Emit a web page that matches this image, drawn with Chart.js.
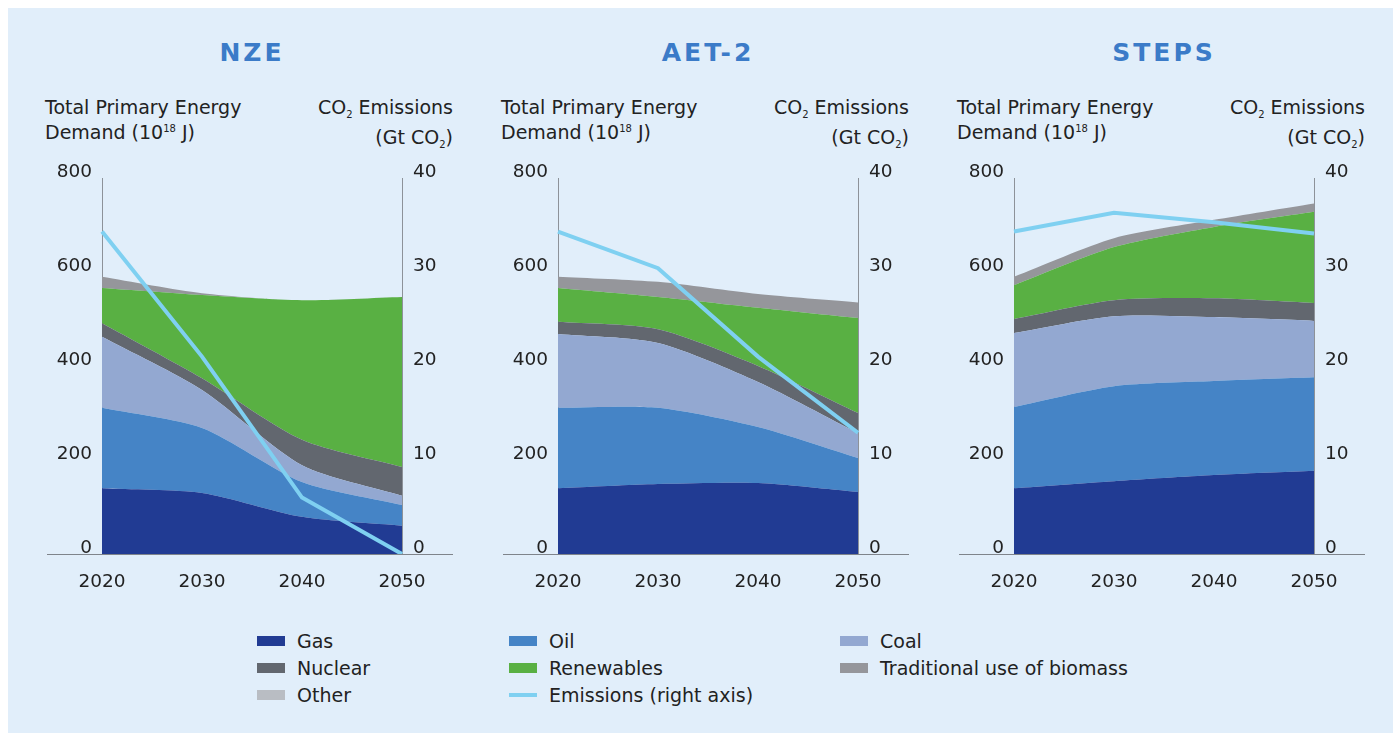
<!DOCTYPE html>
<html>
<head>
<meta charset="utf-8">
<script src="https://cdn.jsdelivr.net/npm/chart.js@4.4.1/dist/chart.umd.min.js"></script>
<style>
  html, body { margin: 0; padding: 0; background: #ffffff; }
  body { width: 1393px; height: 733px; position: relative; overflow: hidden;
         font-family: "DejaVu Sans", sans-serif; color: #222; }
  #panel { position: absolute; left: 8px; top: 8px; width: 1385px; height: 725px; background: #e1eefa; }
  .title { position: absolute; top: 38px; width: 300px; text-align: center; font-weight: bold;
           font-size: 25px; letter-spacing: 3px; color: #3b7bc8; }
  .axt { position: absolute; top: 96px; font-size: 19px; line-height: 22px; color: #222; white-space: nowrap; }
  .axt.r { text-align: right; }
  .axt sup { font-size: 10px; vertical-align: 7px; }
  .axt sub { font-size: 10px; vertical-align: -4px; }
  .cv { position: absolute; top: 160px; width: 420px; height: 440px; }
  .lg { position: absolute; font-size: 19px; line-height: 22px; white-space: nowrap; color: #222; }
  .lg i { position: absolute; left: -40px; width: 28px; }
</style>
</head>
<body>
<div id="panel"></div>
<script>
// Years on the x axis and the three scenarios
const years = ['2020', '2030', '2040', '2050'];
const scenarios = ['NZE', 'AET-2', 'STEPS'];

// Total primary energy demand by source (10^18 J)
const nzeGas       = [140, 130, 79, 60];
const nzeOil       = [171, 138, 74, 44];
const nzeCoal      = [151, 81, 36, 20];
const nzeNuclear   = [29, 25, 54, 61];
const nzeRenew     = [75, 177, 297, 362];
const nzeBiomass   = [24, 4, 0, 0];
const nzeOther     = [0, 0, 0, 0];

const aetGas       = [140, 149, 151, 132];
const aetOil       = [171, 162, 119, 72];
const aetCoal      = [157, 138, 96, 53];
const aetNuclear   = [26, 29, 34, 43];
const aetRenew     = [72, 69, 124, 202];
const aetBiomass   = [24, 32, 29, 33];
const aetOther     = [0, 0, 0, 0];

const stepsGas     = [140, 155, 168, 177];
const stepsOil     = [173, 202, 200, 199];
const stepsCoal    = [157, 149, 136, 120];
const stepsNuclear = [30, 34, 40, 38];
const stepsRenew   = [72, 113, 152, 194];
const stepsBiomass = [18, 19, 15, 18];
const stepsOther   = [0, 0, 0, 0];

// CO2 emissions (Gt CO2), right axis
const nzeEmissions   = [34.3, 21.0, 6.0, 0];
const aetEmissions   = [34.3, 30.4, 21.0, 12.9];
const stepsEmissions = [34.3, 36.3, 35.3, 34.1];

// Axis ticks
const energyTicks   = [0, 200, 400, 600, 800];
const emissionTicks = [0, 10, 20, 30, 40];

// Series names and colours (stack order, bottom first)
const sourceLabels = ['Gas', 'Oil', 'Coal', 'Nuclear', 'Renewables', 'Traditional use of biomass', 'Other'];
const sourceColors = ['#213b93', '#4584c6', '#93a8d1', '#62676f', '#59b043', '#95969b', '#b9bdc3'];
const emissionLabel = 'Emissions (right axis)';
const emissionColor = '#7fd0f1';

const energyData = [
  [nzeGas, nzeOil, nzeCoal, nzeNuclear, nzeRenew, nzeBiomass, nzeOther],
  [aetGas, aetOil, aetCoal, aetNuclear, aetRenew, aetBiomass, aetOther],
  [stepsGas, stepsOil, stepsCoal, stepsNuclear, stepsRenew, stepsBiomass, stepsOther]
];
const emissionData = [nzeEmissions, aetEmissions, stepsEmissions];

Chart.defaults.font.family = '"DejaVu Sans", sans-serif';
Chart.defaults.font.size = 18.5;
Chart.defaults.color = '#222';

// Horizontal base line running under both tick columns
const baseLine = {
  id: 'baseLine',
  afterDraw(chart) {
    const { ctx, chartArea: a, scales } = chart;
    const y = Math.round(scales.y.getPixelForValue(0)) + 0.5;
    ctx.save();
    ctx.strokeStyle = '#7f848b';
    ctx.lineWidth = 1;
    ctx.beginPath();
    ctx.moveTo(a.left - 55, y);
    ctx.lineTo(a.right + 51, y);
    ctx.stroke();
    ctx.restore();
  }
};

// Fixed axis sizes so every plot area lines up
const fixY = w => s => { s.width = w; s.paddingTop = 0; s.paddingBottom = 0; };

const body = document.body;
const CHART_LEFT = 102, STEP = 456, PLOT_W = 300;

scenarios.forEach((name, i) => {
  const left = CHART_LEFT + STEP * i;

  const t = document.createElement('div');
  t.className = 'title';
  t.style.left = left + 'px';
  t.textContent = name;
  body.appendChild(t);

  const lt = document.createElement('div');
  lt.className = 'axt';
  lt.style.left = (left - 57) + 'px';
  lt.innerHTML = 'Total Primary Energy<br>Demand (10<sup>18</sup> J)';
  body.appendChild(lt);

  const rt = document.createElement('div');
  rt.className = 'axt r';
  rt.style.right = (1393 - (left + PLOT_W + 51)) + 'px';
  rt.innerHTML = 'CO<sub>2</sub> Emissions<br>(Gt CO<sub>2</sub>)';
  body.appendChild(rt);

  const wrap = document.createElement('div');
  wrap.className = 'cv';
  wrap.style.left = (left - 62) + 'px';
  const cv = document.createElement('canvas');
  wrap.appendChild(cv);
  body.appendChild(wrap);

  const datasets = sourceLabels.map((lab, k) => ({
    label: lab,
    data: energyData[i][k],
    yAxisID: 'y',
    stack: 'energy',
    backgroundColor: sourceColors[k],
    borderColor: sourceColors[k],
    borderWidth: 0,
    pointRadius: 0,
    tension: 0.25,
    fill: k === 0 ? 'origin' : '-1',
    order: 1
  }));
  datasets.push({
    label: emissionLabel,
    data: emissionData[i],
    yAxisID: 'y1',
    borderColor: emissionColor,
    borderWidth: 4,
    pointRadius: 0,
    tension: 0,
    fill: false,
    order: 0
  });

  new Chart(cv, {
    type: 'line',
    data: { labels: years, datasets },
    plugins: [baseLine],
    options: {
      responsive: true,
      maintainAspectRatio: false,
      animation: false,
      layout: { padding: { top: 18, left: 0, right: 0, bottom: 0 } },
      plugins: { legend: { display: false }, tooltip: { enabled: false } },
      scales: {
        x: {
          type: 'category',
          offset: false,
          grid: { display: false, drawTicks: false },
          border: { display: false },
          ticks: { padding: 17, maxRotation: 0, color: '#222' },
          afterFit: s => { s.height = 46; s.paddingLeft = 0; s.paddingRight = 0; }
        },
        y: {
          position: 'left',
          stacked: true,
          min: energyTicks[0],
          max: energyTicks[energyTicks.length - 1],
          afterBuildTicks: s => { s.ticks = energyTicks.map(v => ({ value: v })); },
          grid: { display: false, drawTicks: false },
          border: { display: true, color: '#8d9299', width: 1 },
          ticks: { padding: 10, labelOffset: -6, color: '#222' },
          afterFit: fixY(62)
        },
        y1: {
          position: 'right',
          stacked: false,
          min: emissionTicks[0],
          max: emissionTicks[emissionTicks.length - 1],
          afterBuildTicks: s => { s.ticks = emissionTicks.map(v => ({ value: v })); },
          grid: { display: false, drawTicks: false },
          border: { display: true, color: '#8d9299', width: 1 },
          ticks: { padding: 11, labelOffset: -6, color: '#222' },
          afterFit: fixY(58)
        }
      }
    }
  });
});

// Legend: three columns, filled row by row
const legendItems = sourceLabels.map((lab, k) => ({ label: lab, color: sourceColors[k], line: false }));
legendItems.push({ label: emissionLabel, color: emissionColor, line: true });
const colX = [297, 549, 880];
const rowY = [630, 657, 684];
legendItems.forEach((it, k) => {
  const el = document.createElement('div');
  el.className = 'lg';
  el.style.left = colX[k % 3] + 'px';
  el.style.top = rowY[Math.floor(k / 3)] + 'px';
  const sw = document.createElement('i');
  sw.style.background = it.color;
  sw.style.height = it.line ? '4px' : '10px';
  sw.style.top = it.line ? '9px' : '6px';
  el.appendChild(sw);
  el.appendChild(document.createTextNode(it.label));
  body.appendChild(el);
});
</script>
</body>
</html>
